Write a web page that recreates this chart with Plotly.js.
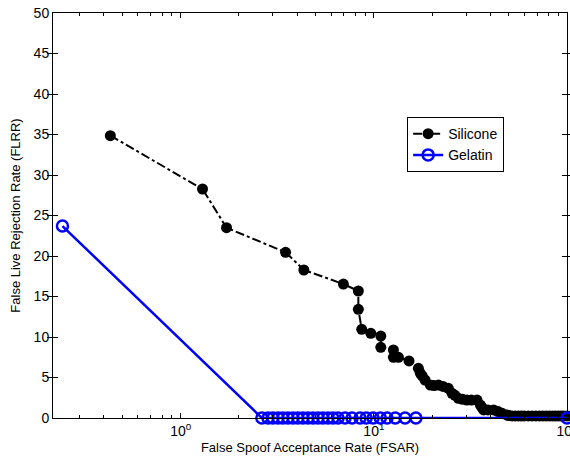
<!DOCTYPE html>
<html>
<head>
<meta charset="utf-8">
<script src="https://cdn.plot.ly/plotly-3.0.1.min.js"></script>
<style>html,body{margin:0;padding:0;background:#fff;}#chart{width:570px;height:460px;}</style>
</head>
<body>
<div id="chart"></div>
<script>
// Silicone series (FSAR %, FLRR %)
const siliconeX = [0.432, 1.296, 1.726, 3.49, 4.34, 6.95, 8.31, 8.31, 8.65, 9.64, 10.86, 10.86, 12.62, 12.62, 13.4, 15.2, 17.0, 17.4, 17.8, 18.4, 19.6, 20.5, 21.6, 22.8, 24.3, 25.4, 26.3, 27.4, 28.8, 30.3, 32.0, 34.2, 35.6, 36.3, 37.0, 39.0, 41.7, 44.0, 46.1, 48.9, 50, 52, 54, 56, 58, 60, 63, 66, 69, 72, 75, 78, 81, 84, 87, 90, 93, 96, 100];
const siliconeY = [34.85, 28.27, 23.49, 20.46, 18.27, 16.54, 15.68, 13.42, 10.95, 10.46, 10.12, 8.72, 8.40, 7.49, 7.49, 7.04, 6.13, 5.52, 5.2, 4.69, 4.07, 4.0, 4.07, 3.9, 3.66, 3.05, 2.8, 2.43, 2.3, 2.22, 2.22, 2.22, 1.6, 1.3, 0.99, 0.99, 0.99, 0.8, 0.58, 0.37, 0.3, 0.25, 0.25, 0.25, 0.25, 0.25, 0.25, 0.25, 0.25, 0.25, 0.25, 0.25, 0.25, 0.25, 0.25, 0.25, 0.25, 0.25, 0.25];
// Gelatin series
const gelatinX = [0.244, 2.63, 2.83, 3.00, 3.19, 3.38, 3.59, 3.81, 4.04, 4.29, 4.56, 4.84, 5.14, 5.45, 5.79, 6.14, 6.52, 7.09, 7.71, 8.48, 9.12, 9.91, 10.8, 11.7, 12.9, 14.5, 16.5, 100];
const gelatinY = [23.7, 0, 0, 0, 0, 0, 0, 0, 0, 0, 0, 0, 0, 0, 0, 0, 0, 0, 0, 0, 0, 0, 0, 0, 0, 0, 0, 0];
const seriesNames = ["Silicone", "Gelatin"];
const xTickVals = [1, 10, 100];
const xTickText = ["10<sup>0</sup>", "10<sup>1</sup>", "10<sup>2</sup>"];
const xMinorVals = [0.3,0.4,0.5,0.6,0.7,0.8,0.9,2,3,4,5,6,7,8,9,20,30,40,50,60,70,80,90];
const yTickVals = [0,5,10,15,20,25,30,35,40,45,50];

const xRange = [Math.log10(0.218), 2];
const traces = [
  {x: siliconeX, y: siliconeY, name: seriesNames[0], type: 'scatter', mode: 'lines+markers', cliponaxis: false,
   line: {color: '#000000', width: 2, dash: 'dashdot'},
   marker: {color: '#000000', size: 11, symbol: 'circle'}},
  {x: gelatinX, y: gelatinY, name: seriesNames[1], type: 'scatter', mode: 'lines+markers', cliponaxis: false,
   line: {color: '#0000ff', width: 2.5},
   marker: {color: '#0000ff', size: 11, symbol: 'circle-open', line: {color: '#0000ff', width: 2.5}}},
  // invisible helper so the top (mirror) axis is drawn with minor ticks
  {x: [1], y: [0], xaxis: 'x2', yaxis: 'y', type: 'scatter', mode: 'markers',
   marker: {opacity: 0}, showlegend: false, hoverinfo: 'skip'}
];

const font = {family: 'Liberation Sans, Arial, sans-serif', color: '#000', size: 13};
const layout = {
  width: 570, height: 460,
  margin: {l: 53, r: 3, t: 13, b: 42},
  paper_bgcolor: '#fff', plot_bgcolor: '#fff',
  font: font,
  showlegend: true,
  legend: {x: 0.689, y: 0.743, xanchor: 'left', yanchor: 'top', bgcolor: '#fff',
    bordercolor: '#000', borderwidth: 1, font: {size: 14, family: font.family},
    tracegroupgap: 0},
  xaxis: {type: 'log', range: xRange, tickmode: 'array',
    tickvals: xTickVals, ticktext: xTickText, ticks: 'inside', ticklen: 5, tickcolor: '#000',
    showline: true, linecolor: '#000', linewidth: 1, mirror: true, showgrid: false, zeroline: false,
    ticklabeloverflow: 'allow',
    minor: {tickmode: 'array', tickvals: xMinorVals, ticks: 'inside', ticklen: 3, tickcolor: '#000', showgrid: false},
    tickfont: {size: 14},
    title: {text: 'False Spoof Acceptance Rate (FSAR)', font: {size: 13}, standoff: 5}},
  xaxis2: {type: 'log', range: xRange, overlaying: 'x', side: 'top', anchor: 'y', tickmode: 'array',
    tickvals: xTickVals, showticklabels: false, ticks: 'inside', ticklen: 5, tickcolor: '#000',
    showline: false, showgrid: false, zeroline: false,
    minor: {tickmode: 'array', tickvals: xMinorVals, ticks: 'inside', ticklen: 3, tickcolor: '#000', showgrid: false}},
  yaxis: {range: [0, 50], tickmode: 'array', tickvals: yTickVals, ticks: 'inside', ticklen: 5, tickcolor: '#000',
    showline: true, linecolor: '#000', linewidth: 1, mirror: 'allticks', showgrid: false, zeroline: false,
    tickfont: {size: 14},
    title: {text: 'False Live Rejection Rate (FLRR)', font: {size: 13}, standoff: 10}}
};
Plotly.newPlot('chart', traces, layout, {displayModeBar: false, staticPlot: true});
</script>
</body>
</html>
